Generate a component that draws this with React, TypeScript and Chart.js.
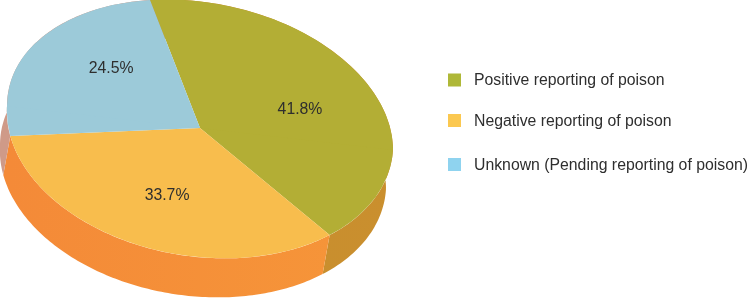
import React, { useEffect, useRef } from "react";
import { Chart, registerables } from "chart.js";

Chart.register(...registerables);

const categories = [
  "Positive reporting of poison",
  "Negative reporting of poison",
  "Unknown (Pending reporting of poison)",
];
const shares = [41.8, 33.7, 24.5];
const topColors = ["#b3ae35", "#f8bd4d", "#9ccad9"];
const sideLeft = ["#c48d2e", "#f48a38", "#cf9a88"];
const sideRight = ["#ca8f2e", "#f69639", "#cf9a88"];
const legendColors = ["#afb838", "#fbc850", "#8fd3ef"];

const FONT = '"Liberation Sans", Arial, sans-serif';
const TEXT = "#2e2e2e";

// Projection of the round pie onto the picture: both halves share one long axis,
// the half nearer the viewer is slightly larger and leans left, as in a perspective view.
const CENTER = { x: 200, y: 128 };
const AXIS = { x: 193, y: 22 };
const FAR = { x: 0, y: 126.6 };
const NEAR = { x: -8, y: 128.5 };
const DEPTH = { x: -7, y: 39 };
const LABEL_NUDGE = [4.9, -1, 9.6];
const LABEL_RADIUS = [0.571, 0.567, 0.606];
const LEGEND_ROWS = [80, 120.5, 164.5];

function project(angle: number, radius = 1) {
  const c = Math.cos(angle) * radius;
  const s = Math.sin(angle) * radius;
  const b = s < 0 ? FAR : NEAR;
  return { x: CENTER.x + AXIS.x * c + b.x * s, y: CENTER.y + AXIS.y * c + b.y * s };
}

function applyFace(ctx: CanvasRenderingContext2D, b: { x: number; y: number }, cx: number, cy: number, r: number) {
  ctx.transform(
    AXIS.x / r,
    AXIS.y / r,
    b.x / r,
    b.y / r,
    CENTER.x - (AXIS.x * cx + b.x * cy) / r,
    CENTER.y - (AXIS.y * cx + b.y * cy) / r,
  );
}

const pie3d = {
  id: "pie3d",
  beforeDatasetDraw(chart: any) {
    const ctx = chart.ctx as CanvasRenderingContext2D;
    const arcs = chart.getDatasetMeta(0).data as any[];
    const { x: cx, y: cy, outerRadius: r } = arcs[0];
    // side walls
    arcs.forEach((arc, i) => {
      const steps = 120;
      const pts = [];
      for (let k = 0; k <= steps; k++) {
        pts.push(project(arc.startAngle + ((arc.endAngle - arc.startAngle) * k) / steps));
      }
      ctx.beginPath();
      pts.forEach((p, k) => (k ? ctx.lineTo(p.x, p.y) : ctx.moveTo(p.x, p.y)));
      pts.reverse().forEach((p) => ctx.lineTo(p.x + DEPTH.x, p.y + DEPTH.y));
      ctx.closePath();
      const g = ctx.createLinearGradient(CENTER.x - AXIS.x, 0, CENTER.x + AXIS.x, 0);
      g.addColorStop(0, sideLeft[i]);
      g.addColorStop(1, sideRight[i]);
      ctx.fillStyle = g;
      ctx.fill();
    });
    // near half of the top face: drawn by the library's own dataset pass
    ctx.save();
    applyFace(ctx, NEAR, cx, cy, r);
    ctx.beginPath();
    ctx.rect(cx - 2 * r, cy - 1, 4 * r, 2 * r);
    ctx.clip();
  },
  afterDatasetDraw(chart: any) {
    const ctx = chart.ctx as CanvasRenderingContext2D;
    ctx.restore();
    const meta = chart.getDatasetMeta(0);
    const arcs = meta.data as any[];
    const { x: cx, y: cy, outerRadius: r } = arcs[0];
    // far half of the top face
    ctx.save();
    applyFace(ctx, FAR, cx, cy, r);
    ctx.beginPath();
    ctx.rect(cx - 2 * r, cy - 2 * r, 4 * r, 2 * r);
    ctx.clip();
    meta.controller.draw();
    ctx.restore();

    ctx.save();
    ctx.font = `15.8px ${FONT}`;
    ctx.fillStyle = TEXT;
    ctx.textAlign = "center";
    ctx.textBaseline = "middle";
    arcs.forEach((arc, i) => {
      const a = (arc.startAngle + arc.endAngle) / 2 + (LABEL_NUDGE[i] * Math.PI) / 180;
      const p = project(a, LABEL_RADIUS[i]);
      ctx.fillText(`${shares[i].toFixed(1)}%`, p.x, p.y + 1);
    });
    ctx.textAlign = "left";
    categories.forEach((name, i) => {
      ctx.fillStyle = legendColors[i];
      ctx.fillRect(448, LEGEND_ROWS[i] - 6.5, 13, 13);
      ctx.fillStyle = TEXT;
      ctx.fillText(name, 474, LEGEND_ROWS[i] + 1);
    });
    ctx.restore();
  },
};

export default function App() {
  const ref = useRef<HTMLCanvasElement>(null);
  useEffect(() => {
    const chart = new Chart(ref.current!, {
      type: "pie",
      data: {
        labels: categories,
        datasets: [
          {
            data: shares,
            backgroundColor: topColors,
            borderWidth: 0,
            clip: false,
          } as any,
        ],
      },
      options: {
        animation: false,
        responsive: false,
        rotation: -15,
        layout: { padding: { left: 7, right: 356, top: 0, bottom: 42 } },
        plugins: { legend: { display: false }, tooltip: { enabled: false } },
      },
      plugins: [pie3d],
    });
    return () => chart.destroy();
  }, []);
  return (
    <div style={{ position: "absolute", left: 0, top: 0, width: 749, height: 299, background: "#fff" }}>
      <canvas ref={ref} width={749} height={299} style={{ display: "block" }} />
    </div>
  );
}
